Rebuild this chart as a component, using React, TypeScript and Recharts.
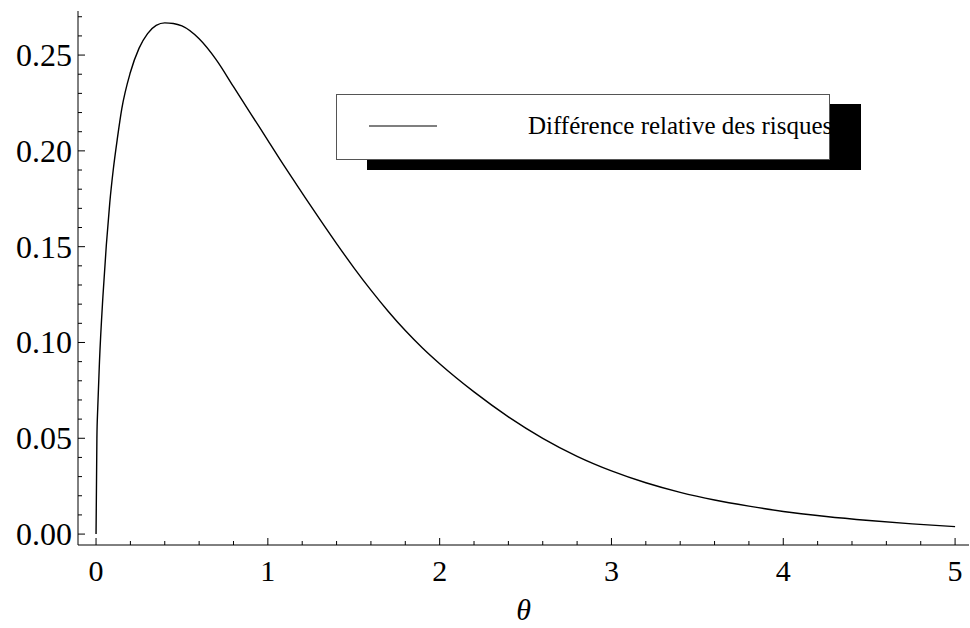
import { LineChart, Line, XAxis, YAxis, Legend } from 'recharts';

const thetaValues = [
	0, 0.005, 0.01, 0.02, 0.04, 0.06, 0.08, 0.1, 0.125, 0.15, 0.2, 0.25, 0.3, 0.35, 0.4, 0.45, 0.5, 0.6, 0.7, 0.8,
	0.9, 1.0, 1.1, 1.2, 1.3, 1.4, 1.5, 1.6, 1.7, 1.8, 1.9, 2.0, 2.2, 2.4, 2.6, 2.8, 3.0, 3.2, 3.4, 3.6, 3.8, 4.0,
	4.25, 4.5, 4.75, 5.0,
];
const riskDiff = [
	0, 0.05, 0.066, 0.09, 0.124, 0.151, 0.173, 0.19, 0.207, 0.222, 0.241, 0.2535, 0.2612, 0.2655, 0.2668, 0.2665,
	0.2652, 0.2585, 0.2475, 0.2335, 0.2195, 0.2055, 0.1915, 0.178, 0.1646, 0.1516, 0.1391, 0.1273, 0.1163, 0.1062,
	0.0971, 0.0889, 0.0742, 0.0612, 0.05, 0.0406, 0.033, 0.0268, 0.0218, 0.0178, 0.0146, 0.0118, 0.0092, 0.0071,
	0.0053, 0.0039,
];

const xMajorTicks = [0, 1, 2, 3, 4, 5];
const yMajorTicks = [0, 0.05, 0.1, 0.15, 0.2, 0.25];
const yTickLabels = ['0.00', '0.05', '0.10', '0.15', '0.20', '0.25'];
const seriesName = 'Différence relative des risques';
const xAxisTitle = 'θ';

const chartData = thetaValues.map((theta, i) => ({ theta, diff: riskDiff[i] }));

// minor ticks every 0.2 on x and 0.01 on y, like the frame ticks of the original
const stepTicks = (step: number, count: number) =>
	Array.from({ length: count }, (_, i) => +(i * step).toFixed(4));
const xTicks = stepTicks(0.2, 26);
const yTicks = stepTicks(0.01, 28);

const isMajor = (v: number, majors: number[]) => majors.some((m) => Math.abs(m - v) < 1e-6);

const FONT = '"Liberation Serif", "Times New Roman", serif';

const XTick = (props: any) => {
	const { x, y, payload, side } = props;
	const major = isMajor(payload.value, xMajorTicks);
	const len = major ? 7 : 4;
	const dir = side === 'bottom' ? -1 : 1;
	return (
		<g>
			<line x1={x} y1={y} x2={x} y2={y + dir * len} stroke="#000" strokeWidth={1} />
			{side === 'bottom' && major && (
				<text x={x} y={y + 36} textAnchor="middle" fontSize={30} fontFamily={FONT} fill="#000">
					{payload.value}
				</text>
			)}
		</g>
	);
};

const YTick = (props: any) => {
	const { x, y, payload, side } = props;
	const idx = yMajorTicks.findIndex((m) => Math.abs(m - payload.value) < 1e-6);
	const len = idx >= 0 ? 7 : 4;
	const dir = side === 'left' ? 1 : -1;
	return (
		<g>
			<line x1={x} y1={y} x2={x + dir * len} y2={y} stroke="#000" strokeWidth={1} />
			{side === 'left' && idx >= 0 && (
				<text x={x - 6} y={y + 11} textAnchor="end" fontSize={32} fontFamily={FONT} fill="#000">
					{yTickLabels[idx]}
				</text>
			)}
		</g>
	);
};

const LegendBox = (props: any) => {
	const label = props.payload?.[0]?.value ?? seriesName;
	return (
		<div
			style={{
				position: 'relative',
				width: 494,
				height: 66,
				boxSizing: 'border-box',
				border: '1px solid #555',
				background: '#fff',
				boxShadow: '31px 10px 0 0 #000',
			}}
		>
			<svg width={110} height={66} style={{ position: 'absolute', left: 0, top: 0 }}>
				<line x1={32} y1={31} x2={100} y2={31} stroke="#000" strokeWidth={1.2} />
			</svg>
			<span
				style={{
					position: 'absolute',
					left: 191,
					top: 16,
					fontFamily: FONT,
					fontSize: 25,
					lineHeight: '29px',
					whiteSpace: 'nowrap',
					color: '#000',
				}}
			>
				{label}
			</span>
		</div>
	);
};

const App = () => {
	return (
		<div style={{ position: 'absolute', left: 0, top: 0 }}>
			<LineChart width={970} height={628} data={chartData} margin={{ top: 11, right: 1, left: 0, bottom: 0 }}>
				<XAxis
					xAxisId="bottom"
					type="number"
					dataKey="theta"
					domain={[-0.105, 5.081]}
					allowDataOverflow
					ticks={xTicks}
					interval={0}
					height={83}
					tickSize={0}
					tickMargin={0}
					tickLine={false}
					axisLine={{ stroke: '#000' }}
					tick={(p: any) => <XTick {...p} side="bottom" />}
					label={{
						value: xAxisTitle,
						position: 'insideBottom',
						offset: 8,
						fontSize: 30,
						fontStyle: 'italic',
						fontFamily: FONT,
						fill: '#000',
					}}
				/>
				<XAxis
					xAxisId="top"
					orientation="top"
					type="number"
					dataKey="theta"
					domain={[-0.105, 5.081]}
					allowDataOverflow
					ticks={xTicks}
					interval={0}
					height={0}
					tickSize={0}
					tickMargin={0}
					tickLine={false}
					axisLine={{ stroke: '#000' }}
					tick={(p: any) => <XTick {...p} side="top" />}
				/>
				<YAxis
					yAxisId="left"
					type="number"
					domain={[-0.0057, 0.273]}
					allowDataOverflow
					ticks={yTicks}
					interval={0}
					width={78}
					tickSize={0}
					tickMargin={0}
					tickLine={false}
					axisLine={{ stroke: '#000' }}
					tick={(p: any) => <YTick {...p} side="left" />}
				/>
				<YAxis
					yAxisId="right"
					orientation="right"
					type="number"
					domain={[-0.0057, 0.273]}
					allowDataOverflow
					ticks={yTicks}
					interval={0}
					width={0}
					tickSize={0}
					tickMargin={0}
					tickLine={false}
					axisLine={{ stroke: '#000' }}
					tick={(p: any) => <YTick {...p} side="right" />}
				/>
				<Legend
					layout="horizontal"
					verticalAlign="middle"
					align="center"
					content={(p: any) => <LegendBox {...p} />}
					wrapperStyle={{ left: 336, top: 94, width: 494, height: 66 }}
				/>
				<Line
					xAxisId="bottom"
					yAxisId="left"
					type="monotone"
					dataKey="diff"
					name={seriesName}
					stroke="#000"
					strokeWidth={1.4}
					dot={false}
					activeDot={false}
					isAnimationActive={false}
				/>
			</LineChart>
		</div>
	);
};

export default App;
